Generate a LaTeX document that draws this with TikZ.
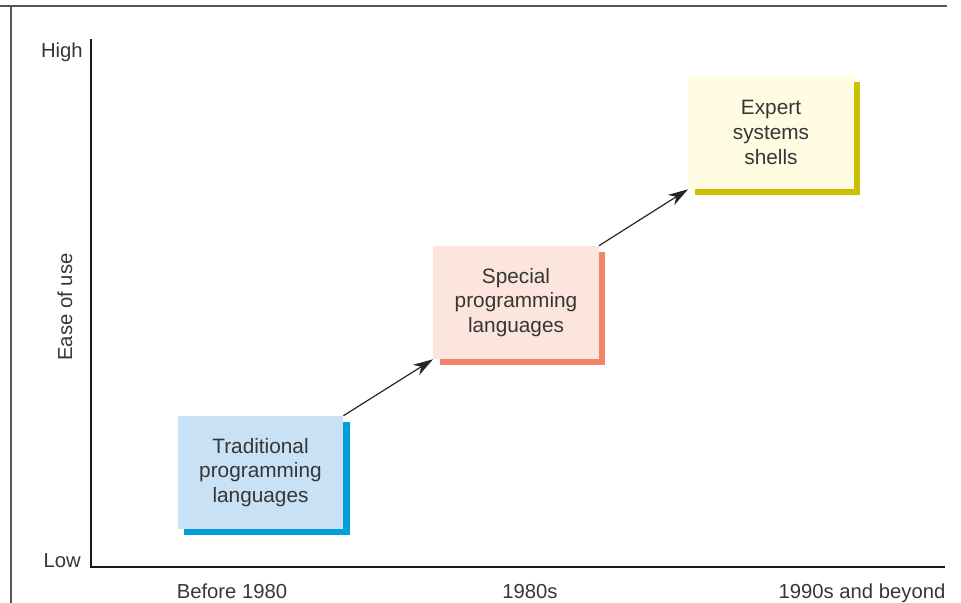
\documentclass[tikz,border=0pt]{standalone}
\usepackage{fontspec}
\setmainfont{Liberation Sans}
\usetikzlibrary{shadows,arrows.meta}

\definecolor{txt}{HTML}{363636}
\definecolor{blueFill}{HTML}{C9E1F4}
\definecolor{blueEdge}{HTML}{009FDA}
\definecolor{pinkFill}{HTML}{FCE5DC}
\definecolor{pinkEdge}{HTML}{F4846B}
\definecolor{yellowFill}{HTML}{FFFCE1}
\definecolor{yellowEdge}{HTML}{CABF00}
\definecolor{frameGray}{HTML}{555555}

\tikzset{
  stage/.style={rectangle, inner sep=0pt, minimum width=124pt, minimum height=84.75pt,
    align=center, text=txt, font=\fontsize{15.6}{18.6}\selectfont},
  stageshadow/.style={general shadow={fill=#1, shadow xshift=4.8pt, shadow yshift=-4.8pt}},
  axislabel/.style={text=txt, font=\fontsize{15.2}{18}\selectfont, inner sep=0pt},
  axisline/.style={draw=black!90, line width=1pt},
  framerule/.style={draw=frameGray, line width=1pt},
  trend/.style={draw=black!85, line width=0.9pt,
    -{Stealth[length=15pt, width=9pt, inset=4.5pt]}}
}

\begin{document}
\begin{tikzpicture}[x=0.75pt, y=-0.75pt]
  \useasboundingbox (0,0) rectangle (961,603);

  % page rules
  \coordinate (ruleL) at (0,6);
  \coordinate (ruleR) at (947,6);
  \coordinate (sideT) at (11,6);
  \coordinate (sideB) at (11,603);
  \draw[framerule] (ruleL) -- (ruleR);
  \draw[framerule] (sideT) -- (sideB);

  % axes
  \coordinate (yTop) at (91,39);
  \coordinate (origin) at (91,567);
  \coordinate (xEnd) at (945,567);
  \draw[axisline] (yTop) -- (origin) -- (xEnd);

  % axis labels
  \node[axislabel, anchor=base east] (high) at (83,57) {High};
  \node[axislabel, anchor=base east] (low) at (81,567) {Low};
  \node[axislabel, rotate=90, anchor=base] (ease) at (72,307) {Ease of use};
  \node[axislabel, anchor=base] (t1) at (232,598) {Before 1980};
  \node[axislabel, anchor=base] (t2) at (530,598) {1980s};
  \node[axislabel, anchor=base] (t3) at (862,598) {1990s and beyond};

  % stages
  \node[stage, fill=blueFill, stageshadow=blueEdge] (b1) at (260.5,472.5)
    {Traditional\\programming\\languages};
  \node[stage, fill=pinkFill, stageshadow=pinkEdge] (b2) at (516,302.5)
    {Special\\programming\\languages};
  \node[stage, fill=yellowFill, stageshadow=yellowEdge] (b3) at (771,132.5)
    {Expert\\systems\\shells};

  % progression
  \draw[trend] (b1.north east) -- (b2.south west);
  \draw[trend] (b2.north east) -- (b3.south west);
\end{tikzpicture}
\end{document}
